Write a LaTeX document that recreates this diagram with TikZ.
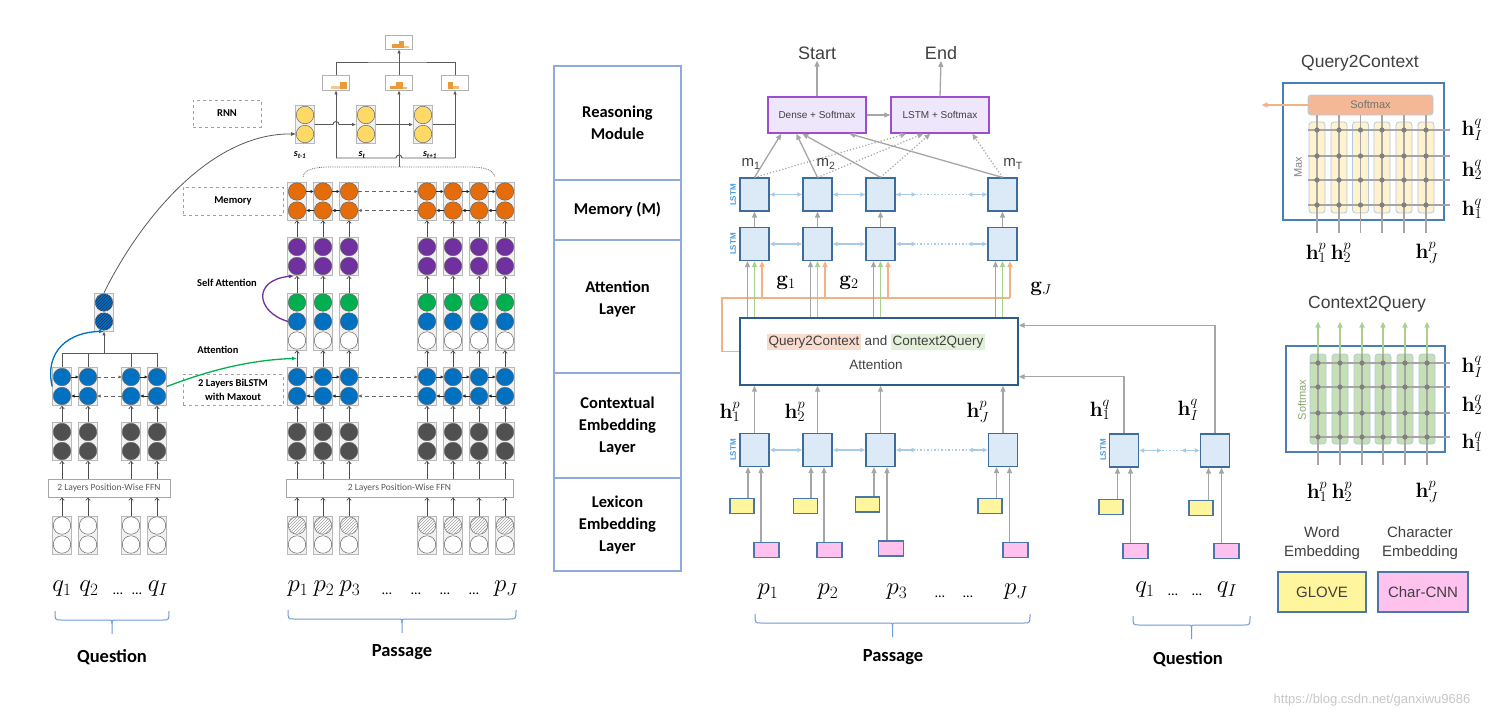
\documentclass[tikz,border=0pt]{standalone}
\usepackage[no-math]{fontspec}
\setmainfont{Carlito}
\newfontfamily\hv{Liberation Sans}
\usetikzlibrary{arrows.meta,patterns,calc}
\setlength{\fboxsep}{1.5pt}
\definecolor{corange}{HTML}{E46C0A}
\definecolor{cpurple}{HTML}{7030A0}
\definecolor{cgreen}{HTML}{00B050}
\definecolor{cblue}{HTML}{0070C0}
\definecolor{cdark}{HTML}{505050}
\definecolor{cyel}{HTML}{FFD966}
\definecolor{hatchnavy}{HTML}{1E3264}
\definecolor{lgray}{HTML}{A6A6A6}
\definecolor{lstmfill}{HTML}{DCE9F7}
\definecolor{lstmdraw}{HTML}{3E6D9C}
\definecolor{lstmtext}{HTML}{4A9BDC}
\definecolor{lblue}{HTML}{A9CBEA}
\definecolor{agreen}{HTML}{A9D18E}
\definecolor{aorange}{HTML}{F4B183}
\definecolor{purfill}{HTML}{EEE6FA}
\definecolor{purdraw}{HTML}{9B4FD0}
\definecolor{attdraw}{HTML}{2E5C8A}
\definecolor{hlor}{HTML}{F9DCCF}
\definecolor{hlgr}{HTML}{E2F0D9}
\definecolor{glove}{HTML}{FFF59D}
\definecolor{charcnn}{HTML}{FFC2EF}
\definecolor{embdraw}{HTML}{4A76A8}
\definecolor{legdraw}{HTML}{8FAADC}
\definecolor{bracec}{HTML}{6F9BD8}
\definecolor{qcyel}{HTML}{FFF2CC}
\definecolor{smax}{HTML}{F4B896}
\definecolor{c2qg}{HTML}{C5E0B4}
\definecolor{colbd}{HTML}{B4C9E0}
\definecolor{boxblue}{HTML}{4A7EBB}
\definecolor{txtgray}{HTML}{404040}
\definecolor{histo}{HTML}{E99A3C}
\newcommand\twocell[5]{%
  \node[cellbox,minimum height=38pt] (#1) at (#2,#3) {};
  \node[circ,#4] (#1-a) at (#2,#3-9.5) {};
  \node[circ,#5] (#1-b) at (#2,#3+9.5) {};
}
\newcommand\threecell[6]{%
  \node[cellbox,minimum height=57pt] (#1) at (#2,#3) {};
  \node[circ,#4] (#1-a) at (#2,#3-19) {};
  \node[circ,#5] (#1-b) at (#2,#3) {};
  \node[circ,#6] (#1-c) at (#2,#3+19) {};
}
\newcommand\flatbrace[3]{%
  \draw[draw=bracec, line width=1pt] (#1,#3) .. controls (#1,{#3+9}) .. ({#1+6},{#3+9}) -- ({(#1+#2)/2-4},{#3+9}) .. controls ({(#1+#2)/2},{#3+9}) .. ({(#1+#2)/2},{#3+13}) -- ({(#1+#2)/2},{#3+23});
  \draw[draw=bracec, line width=1pt] (#2,#3) .. controls (#2,{#3+9}) .. ({#2-6},{#3+9}) -- ({(#1+#2)/2+4},{#3+9}) .. controls ({(#1+#2)/2},{#3+9}) .. ({(#1+#2)/2},{#3+13});
}
\tikzset{
 cellbox/.style={draw=gray!55, fill=gray!12, line width=0.7pt, minimum width=19pt, inner sep=0pt},
 circ/.style={circle, minimum size=17.5pt, inner sep=0pt, draw=black!60, line width=0.5pt},
 hatch/.style={fill=white, postaction={pattern=north east lines, pattern color=gray!75}},
 bluehatch/.style={fill=cblue, postaction={pattern=north east lines, pattern color=hatchnavy}},
 ffnbox/.style={draw=gray!70, fill=white, line width=0.8pt, inner sep=0pt, font=\fontsize{9.5}{10}\selectfont, text=black!65},
 varrow/.style={-{Straight Barb[length=2.5pt,width=4.5pt]}, draw=black!70, line width=0.7pt},
 harrow/.style={-{Latex[length=3.5pt,width=3.5pt]}, draw=black!85, line width=0.7pt},
 hdash/.style={harrow, draw=black!60, dash pattern=on 4pt off 3pt},
 tline/.style={draw=black!65, line width=0.9pt},
 tarrow/.style={tline, -{Latex[length=4pt,width=3.5pt]}},
 dbox/.style={draw=gray!75, dashed, line width=0.8pt, inner sep=0pt, font=\bfseries\fontsize{10.5}{12}\selectfont, align=center},
 lbl/.style={font=\bfseries\fontsize{10.5}{12}\selectfont},
 outbox/.style={draw=gray!60, fill=white, line width=0.8pt, minimum width=27pt, minimum height=15pt, inner sep=0pt},
 legbox/.style={draw=legdraw, line width=1.3pt, minimum width=127pt, inner sep=0pt, align=center, font=\bfseries\fontsize{16.5}{22}\selectfont},
 lstm/.style={draw=lstmdraw, fill=lstmfill, line width=1.2pt, minimum width=29pt, minimum height=33pt, inner sep=0pt},
 lstmlab/.style={rotate=90, text=lstmtext, font=\hv\bfseries\fontsize{8}{8}\selectfont},
 garrow/.style={draw=lgray, line width=1.3pt, -{Triangle[length=6pt,width=5pt]}},
 gdot/.style={draw=lgray, line width=1.2pt, dotted, -{Triangle[length=6pt,width=5pt]}},
 grnarrow/.style={draw=agreen, line width=1.3pt, -{Triangle[length=6pt,width=5pt]}},
 orarrow/.style={draw=aorange, line width=1.3pt, -{Triangle[length=6pt,width=5pt]}},
 orline/.style={draw=aorange, line width=1.5pt},
 lbarrow/.style={draw=lblue, line width=1.5pt, {Latex[length=5pt,width=5pt]}-{Latex[length=5pt,width=5pt]}},
 lbdot/.style={draw=lblue, line width=1.5pt, dotted},
 smbox/.style={draw=purdraw, fill=purfill, line width=1.4pt, minimum width=98pt, minimum height=36pt, inner sep=0pt, font=\hv\fontsize{10}{12}\selectfont, text=txtgray},
 gbox/.style={draw=embdraw, fill=glove, line width=1.2pt, minimum width=24pt, minimum height=15pt, inner sep=0pt},
 pbox/.style={draw=embdraw, fill=charcnn, line width=1.2pt, minimum width=25pt, minimum height=15pt, inner sep=0pt},
 hv/.style={font=\hv\fontsize{#1}{#1}\selectfont, text=txtgray},
 mlab/.style={font=\fontsize{21}{24}\selectfont},
 mathlab/.style={font=\fontsize{24}{26}\selectfont},
 dotlab/.style={font=\fontsize{14}{16}\selectfont, anchor=base},
 bigl/.style={font=\bfseries\fontsize{18.5}{20}\selectfont},
 gridl/.style={draw=lgray, line width=1.2pt},
 col/.style={draw=colbd, rounded corners=3pt, minimum width=16pt, inner sep=0pt, line width=0.8pt},
}
\begin{document}
\begin{tikzpicture}[x=1pt,y=-1pt]
\useasboundingbox[fill=white] (0,0) rectangle (1498,718);

%%%%%%%%%%%%%%%% LEFT MODEL %%%%%%%%%%%%%%%%
\foreach \i/\x in {1/62,2/88,3/131,4/157}{
  \twocell{qin\i}{\x}{535}{fill=white}{fill=white}
  \twocell{qdk\i}{\x}{441.5}{fill=cdark}{fill=cdark}
  \twocell{qbl\i}{\x}{386.5}{fill=cblue}{fill=cblue}
}
\node[ffnbox, minimum width=122pt, minimum height=18pt] (qffn) at (109,488) {2 Layers Position-Wise FFN};
\foreach \i in {1,...,4}{
  \draw[varrow] (qin\i.north) -- (qin\i.north |- qffn.south);
  \draw[varrow] (qin\i.north |- qffn.north) -- (qdk\i.south);
  \draw[varrow] (qdk\i.north) -- (qbl\i.south);
}
\foreach \i/\j in {1/2,3/4}{
  \draw[harrow] (qbl\i-a.east) -- (qbl\j-a.west);
  \draw[harrow] (qbl\j-b.west) -- (qbl\i-b.east);
}
\draw[hdash] (qbl2-a.east) -- (qbl3-a.west);
\draw[hdash] (qbl3-b.west) -- (qbl2-b.east);
\twocell{qsum}{104}{312}{bluehatch}{bluehatch}
\coordinate (qt) at (104,353);
\draw[tline] (qbl1.north) |- (qt);
\draw[tline] (qbl4.north) |- (qt);
\draw[tline] (qbl2.north) -- (qbl2.north |- qt);
\draw[tline] (qbl3.north) -- (qbl3.north |- qt);
\draw[tarrow] (qt) -- (qsum.south);

\foreach \i/\x in {1/297,2/323,3/349,4/427,5/453,6/479,7/505}{
  \twocell{pin\i}{\x}{535}{hatch}{fill=white}
  \twocell{pdk\i}{\x}{441.5}{fill=cdark}{fill=cdark}
  \twocell{pbl\i}{\x}{386.5}{fill=cblue}{fill=cblue}
  \threecell{pat\i}{\x}{321.5}{fill=cgreen}{fill=cblue}{fill=white}
  \twocell{ppu\i}{\x}{256.5}{fill=cpurple}{fill=cpurple}
  \twocell{por\i}{\x}{201}{fill=corange}{fill=corange}
}
\node[ffnbox, minimum width=227pt, minimum height=18pt] (pffn) at (399.5,488) {2 Layers Position-Wise FFN};
\foreach \i in {1,...,7}{
  \draw[varrow] (pin\i.north) -- (pin\i.north |- pffn.south);
  \draw[varrow] (pin\i.north |- pffn.north) -- (pdk\i.south);
  \draw[varrow] (pdk\i.north) -- (pbl\i.south);
  \draw[varrow] (pbl\i.north) -- (pat\i.south);
  \draw[varrow] (pat\i.north) -- (ppu\i.south);
  \draw[varrow] (ppu\i.north) -- (por\i.south);
}
\foreach \r in {pbl,por}{
  \foreach \i/\j in {1/2,2/3,4/5,5/6,6/7}{
    \draw[harrow] (\r\i-a.east) -- (\r\j-a.west);
    \draw[harrow] (\r\j-b.west) -- (\r\i-b.east);
  }
  \draw[hdash] (\r3-a.east) -- (\r4-a.west);
  \draw[hdash] (\r4-b.west) -- (\r3-b.east);
}

\twocell{s1}{305}{124.5}{fill=cyel}{fill=cyel}
\twocell{s2}{366}{124.5}{fill=cyel}{fill=cyel}
\twocell{s3}{423}{124.5}{fill=cyel}{fill=cyel}
\node[font=\bfseries\itshape\fontsize{10}{12}\selectfont] (ls1) at (300,155) {s\textsubscript{t-1}};
\node[font=\bfseries\itshape\fontsize{10}{12}\selectfont] (ls2) at (362,155) {s\textsubscript{t}};
\node[font=\bfseries\itshape\fontsize{10}{12}\selectfont] (ls3) at (430,155) {s\textsubscript{t+1}};
\node[outbox] (o1) at (336,82.5) {};
\node[outbox] (o2) at (399,82.5) {};
\node[outbox] (o3) at (455,82.5) {};
\node[outbox, minimum height=14pt] (otop) at (399,42) {};
\fill[histo!55] (331,86) rectangle (340,89);
\fill[histo] (340,82) rectangle (347,89);
\fill[histo] (390,86) rectangle (396,89);
\fill[histo] (396,82) rectangle (403,89);
\fill[histo!70] (403,87) rectangle (407,89);
\fill[histo] (448,82) rectangle (453,89);
\fill[histo!70] (453,86) rectangle (459,89);
\fill[histo] (392,44) rectangle (399,48);
\fill[histo] (399,41) rectangle (404,48);
\fill[histo!60] (404,46) rectangle (409,48);
\coordinate (tt) at (399,62);
\draw[tline] (o1.north) |- (tt) -| (o3.north);
\draw[tarrow] (o2.north) -- (otop.south);
\coordinate (brt) at (399,167);
\coordinate (uL) at (336,158);
\coordinate (uR) at (455,158);
\draw[densely dotted, draw=black!60, line width=0.8pt] (por1.north) ++(6,-5) .. controls (305,169) and (315,167) .. (330,167) -- (brt) -- (468,167) .. controls (483,167) and (493,169) .. (495,177);
\draw[tarrow] (brt) -- (o2.south);
\draw[tline] (uR) -- (402,158) arc[start angle=0, end angle=-180, radius=3] -- (uL);
\draw[tarrow] (uL) -- (o1.south);
\draw[tarrow] (uR) -- (o3.south);
\draw[tarrow] (s1.east) -- (333,124.5) arc[start angle=180, end angle=360, radius=3] -- (s2.west);
\draw[tarrow] (s2.east) -- (s3.west);
\draw[tline] (s3.east) -- (s3.east -| uR);

\node[dbox, minimum width=68pt, minimum height=27pt] (rnn) at (227,113.5) {RNN};
\node[dbox, minimum width=100pt, minimum height=28pt] (mem) at (233,201) {Memory};
\node[dbox, minimum width=100pt, minimum height=31pt, font=\bfseries\fontsize{10.5}{14}\selectfont] (bil) at (233,390) {2 Layers BiLSTM\\with Maxout};
\node[lbl] (sattl) at (227,283) {Self Attention};
\node[lbl] (attl) at (218,350) {Attention};

\draw[draw=black!65, line width=0.8pt, -{Latex[length=5pt,width=4pt]}] (qsum.north) .. controls (140,220) and (210,133) .. (s1-b.west);
\draw[draw=cblue, line width=1.3pt, -{Latex[length=5pt,width=4pt]}] (qbl1.west) .. controls (44,350) and (70,332) .. (qsum.south);
\draw[draw=cpurple, line width=1.3pt, -{Latex[length=5pt,width=4pt]}] (pat1-b.west) .. controls (256,312) and (252,280) .. ([xshift=-3pt]ppu1.south);
\draw[draw=cgreen, line width=1.3pt, -{Latex[length=5pt,width=4pt]}] (qbl4.east) .. controls (210,370) and (250,360) .. ($(pat1.south)+(0,8)$);

\node[mathlab] (q1) at (62,589) {$q_1$};
\node[mathlab] (q2) at (89,589) {$q_2$};
\node[dotlab] (qd1) at (118,594) {\ldots};
\node[dotlab] (qd2) at (137,594) {\ldots};
\node[mathlab] (qI) at (158,589) {$q_I$};
\node[mathlab] (p1) at (298,589) {$p_1$};
\node[mathlab] (p2) at (324,589) {$p_2$};
\node[mathlab] (p3) at (350,589) {$p_3$};
\foreach \x in {387,416,445,474}{\node[dotlab] at (\x,594) {\ldots};}
\node[mathlab] (pJ) at (506,589) {$p_J$};
\flatbrace{55}{169}{611}
\node[bigl] (lq) at (112,657) {Question};
\flatbrace{288}{516}{610}
\node[bigl] (lp) at (402,652) {Passage};

%%%%%%%%%%%%%%%% MIDDLE LEGEND %%%%%%%%%%%%%%%%
\node[legbox, minimum height=114pt] (lg1) at (617.5,123) {Reasoning\\Module};
\node[legbox, minimum height=60pt] (lg2) at (617.5,210) {Memory (M)};
\node[legbox, minimum height=133pt] (lg3) at (617.5,306.5) {Attention\\Layer\\[-5pt]};
\node[legbox, minimum height=105pt] (lg4) at (617.5,425.5) {Contextual\\Embedding\\Layer};
\node[legbox, minimum height=93pt] (lg5) at (617.5,524.5) {Lexicon\\Embedding\\Layer};

%%%%%%%%%%%%%%%% CENTER MODEL %%%%%%%%%%%%%%%%
\node[smbox] (dense) at (817,115) {Dense + Softmax};
\node[smbox] (lsm) at (940,115) {LSTM + Softmax};
\node[hv=18, inner sep=1pt] (start) at (817,53) {Start};
\node[hv=18, inner sep=1pt] (end) at (941,53) {End};
\draw[garrow] (dense.north) -- (start.south);
\draw[garrow] (lsm.north) -- (end.south);
\draw[garrow] (dense.east) -- (lsm.west);

\foreach \i/\x in {1/754.5,2/817.5,3/880.5,4/1002.5}{
  \node[lstm] (mA\i) at (\x,194.5) {};
  \node[lstm] (mB\i) at (\x,244) {};
  \draw[garrow] (mB\i.north) -- (mA\i.south);
}
\foreach \i/\x in {1/754.5,2/817.5,3/880.5,4/1003}{
  \node[lstm] (cP\i) at (\x,450) {};
}
\node[lstm] (cQ1) at (1124,450.5) {};
\node[lstm] (cQ2) at (1215,450.5) {};
\node[lstmlab] (llA) at (733,195) {LSTM};
\node[lstmlab] (llB) at (733,244) {LSTM};
\node[lstmlab] (llC) at (733,450) {LSTM};
\node[lstmlab] (llQ) at (1103,450) {LSTM};
\foreach \r in {mA,mB,cP}{
  \draw[lbarrow] (\r1.east) -- (\r2.west);
  \draw[lbarrow] (\r2.east) -- (\r3.west);
  \draw[lbarrow] (\r3.east) -- ++(21,0) coordinate (\r da);
  \draw[lbarrow] (\r4.west) -- ++(-20,0) coordinate (\r db);
  \draw[lbdot] (\r da) -- (\r db);
}
\draw[lbarrow] (cQ1.east) -- ++(23,0) coordinate (cQda);
\draw[lbarrow] (cQ2.west) -- ++(-19,0) coordinate (cQdb);
\draw[lbdot] (cQda) -- (cQdb);

\draw[garrow] (mA1.north) -- ($(dense.south west)+(14,0)$);
\draw[garrow] (mA2.north) -- ($(dense.south west)+(29,0)$);
\draw[garrow] (mA3.north) -- ($(dense.south west)+(35,0)$);
\draw[garrow] (mA4.north) -- ($(dense.south west)+(82,0)$);
\draw[gdot] (mA1.north) -- ($(lsm.south west)+(16,0)$);
\draw[gdot] (mA2.north) -- ($(lsm.south west)+(33,0)$);
\draw[gdot] (mA3.north) -- ($(lsm.south west)+(40,0)$);
\draw[gdot] (mA4.north) -- ($(lsm.south west)+(82,0)$);
\node[hv=15] (m1) at (751,164) {m\textsubscript{1}};
\node[hv=15] (m2) at (826,164) {m\textsubscript{2}};
\node[hv=15] (mT) at (1013,164) {m\textsubscript{T}};

\node[draw=attdraw, line width=1.4pt, fill=white, minimum width=278pt, minimum height=67pt, inner sep=0pt] (att) at (879,351.5) {};
\node[hv=13.5] (atxt) at (876,342) {\colorbox{hlor}{Query2Context} and \colorbox{hlgr}{Context2Query}};
\node[hv=13.5] (atxt2) at (876,365) {Attention};
\coordinate (orl) at (722,298);
\foreach \i in {1,...,4}{
  \coordinate (gx\i) at ($(mB\i.south)+(-7,0)$);
  \coordinate (ox\i) at ($(mB\i.south)+(7.5,0)$);
}
\draw[orline] (att.west) -- (orl |- att.west) -- (orl) -- (ox4 |- orl);
\foreach \i in {1,...,4}{
  \draw[garrow] (gx\i |- att.north) -- (gx\i);
  \draw[grnarrow] (mB\i.south |- att.north) -- (mB\i.south);
  \draw[orarrow] (ox\i |- orl) -- (ox\i);
  \draw[garrow] (cP\i.north) -- (cP\i.north |- att.south);
}
\coordinate (r1) at ($(att.north east)+(0,8)$);
\coordinate (r2) at ($(att.south east)+(0,-9)$);
\draw[garrow] (cQ2.north) |- (r1);
\draw[garrow] (cQ1.north) |- (r2);

\node[mlab] (g1) at (786,283) {$\mathbf{g}_1$};
\node[mlab] (g2) at (849,283) {$\mathbf{g}_2$};
\node[mlab] (gJ) at (1041,289) {$\mathbf{g}_J$};
\node[mlab] (hp1) at (730,412) {$\mathbf{h}^p_1$};
\node[mlab] (hp2) at (795,412) {$\mathbf{h}^p_2$};
\node[mlab] (hpJ) at (978,412) {$\mathbf{h}^p_J$};
\node[mlab] (hq1) at (1100,410) {$\mathbf{h}^q_1$};
\node[mlab] (hqI) at (1188,410) {$\mathbf{h}^q_I$};

\foreach \i/\yx/\yy/\px/\py in {1/742/506/766.5/550,2/805.5/506/829.5/550,3/867.5/504.5/891/548.5,4/990/506/1015.5/550}{
  \node[gbox] (yP\i) at (\yx,\yy) {};
  \node[pbox] (kP\i) at (\px,\py) {};
  \coordinate (al\i) at ($(cP\i.south)+(-6.5,0)$);
  \coordinate (ar\i) at ($(cP\i.south)+(6.5,0)$);
  \draw[garrow, line width=1.1pt] (al\i |- yP\i.north) -- (al\i);
  \draw[garrow, line width=1.1pt] (ar\i |- kP\i.north) -- (ar\i);
}
\foreach \i/\yx/\yy/\px/\py in {1/1111/507/1135.5/551,2/1201/508/1226.5/551}{
  \node[gbox] (yQ\i) at (\yx,\yy) {};
  \node[pbox] (kQ\i) at (\px,\py) {};
  \coordinate (bl\i) at ($(cQ\i.south)+(-6.5,0)$);
  \coordinate (br\i) at ($(cQ\i.south)+(6.5,0)$);
  \draw[garrow, line width=1.1pt] (bl\i |- yQ\i.north) -- (bl\i);
  \draw[garrow, line width=1.1pt] (br\i |- kQ\i.north) -- (br\i);
}
\node[mathlab] (cp1) at (768,592) {$p_1$};
\node[mathlab] (cp2) at (828,592) {$p_2$};
\node[mathlab] (cp3) at (897,592) {$p_3$};
\node[dotlab] (cpd1) at (940,597) {\ldots};
\node[dotlab] (cpd2) at (968,597) {\ldots};
\node[mathlab] (cpJ) at (1016,592) {$p_J$};
\node[mathlab] (cq1) at (1145,590) {$q_1$};
\node[dotlab] (cqd1) at (1173,595) {\ldots};
\node[dotlab] (cqd2) at (1197,595) {\ldots};
\node[mathlab] (cqI) at (1227,590) {$q_I$};
\flatbrace{755}{1030}{614}
\node[bigl] (clp) at (893,657) {Passage};
\flatbrace{1133}{1250}{616}
\node[bigl] (clq) at (1188,659) {Question};

%%%%%%%%%%%%%%%% RIGHT PANEL %%%%%%%%%%%%%%%%
\node[hv=17.5] (q2ct) at (1360,63) {Query2Context};
\node[draw=boxblue, line width=1.4pt, minimum width=161pt, minimum height=137pt, inner sep=0pt] (q2cb) at (1363.5,151.5) {};
\node[draw=colbd, fill=smax, rounded corners=3pt, minimum width=125pt, minimum height=20pt, inner sep=0pt, line width=0.8pt, font=\hv\fontsize{11}{12}\selectfont, text=black!55] (smx) at (1370.5,105) {Softmax};
\draw[orarrow, line width=1.5pt] (smx.west) -- ++(-46,0);
\foreach \i/\x in {1/1317,2/1339,3/1360.5,4/1382,5/1404,6/1426}{
  \node[col, fill=qcyel, minimum height=91pt] (qc\i) at (\x,167.5) {};
  \draw[gridl] (qc\i.north |- smx.south) -- ++(0,118);
}
\foreach \y in {130,156,180,205}{\draw[gridl] (1308,\y) -- (1450,\y);}
\foreach \x in {1317,1339,1360.5,1382,1404,1426}{\foreach \y in {130,156,180,205}{\fill[black!50] (\x,\y) circle[radius=2.6];}}
\node[rotate=90, font=\hv\fontsize{11}{12}\selectfont, text=black!50] (mx) at (1298,167) {Max};
\node[mlab] (rq1) at (1472,130) {$\mathbf{h}^q_I$};
\node[mlab] (rq2) at (1472,170) {$\mathbf{h}^q_2$};
\node[mlab] (rq3) at (1472,209) {$\mathbf{h}^q_1$};
\node[mlab] (rp1) at (1316,253) {$\mathbf{h}^p_1$};
\node[mlab] (rp2) at (1341,253) {$\mathbf{h}^p_2$};
\node[mlab] (rp3) at (1427,253) {$\mathbf{h}^p_J$};

\node[hv=17.5] (c2qt) at (1367,304) {Context2Query};
\node[draw=boxblue, line width=1.4pt, minimum width=159pt, minimum height=106pt, inner sep=0pt] (c2qb) at (1365.5,399) {};
\foreach \i/\x in {1/1318,2/1340,3/1362,4/1383,5/1405,6/1427}{
  \node[col, fill=c2qg, minimum height=90pt] (gc\i) at (\x,399) {};
  \draw[grnarrow, line width=1.5pt] (gc\i.north) -- ++(0,-32);
  \draw[gridl] (gc\i.north) -- ++(0,111);
}
\foreach \y in {363,387,413,437}{\draw[gridl] (1310,\y) -- (1450,\y);}
\foreach \x in {1318,1340,1362,1383,1405,1427}{\foreach \y in {363,387,413,437}{\fill[black!50] (\x,\y) circle[radius=2.6];}}
\node[rotate=90, font=\hv\fontsize{11}{12}\selectfont, text=agreen!80!black] (smv) at (1302,400) {Softmax};
\node[mlab] (sq1) at (1472,367) {$\mathbf{h}^q_I$};
\node[mlab] (sq2) at (1472,405) {$\mathbf{h}^q_2$};
\node[mlab] (sq3) at (1472,442) {$\mathbf{h}^q_1$};
\node[mlab] (sp1) at (1317,492) {$\mathbf{h}^p_1$};
\node[mlab] (sp2) at (1342,492) {$\mathbf{h}^p_2$};
\node[mlab] (sp3) at (1427,492) {$\mathbf{h}^p_J$};

\node[align=center, font=\hv\fontsize{15}{19}\selectfont, text=txtgray] (we) at (1322,543) {Word\\Embedding};
\node[align=center, font=\hv\fontsize{15}{19}\selectfont, text=txtgray] (ce) at (1420,543) {Character\\Embedding};
\node[draw=embdraw, fill=glove, line width=1.4pt, minimum width=88pt, minimum height=40pt, inner sep=0pt, hv=15] (gl) at (1322,592) {GLOVE};
\node[draw=embdraw, fill=charcnn, line width=1.4pt, minimum width=90pt, minimum height=40pt, inner sep=0pt, hv=15] (cc) at (1423,592) {Char-CNN};
\node[font=\hv\fontsize{13}{14}\selectfont, text=black!22] (wm) at (1372,700) {https://blog.csdn.net/ganxiwu9686};
\end{tikzpicture}
\end{document}
